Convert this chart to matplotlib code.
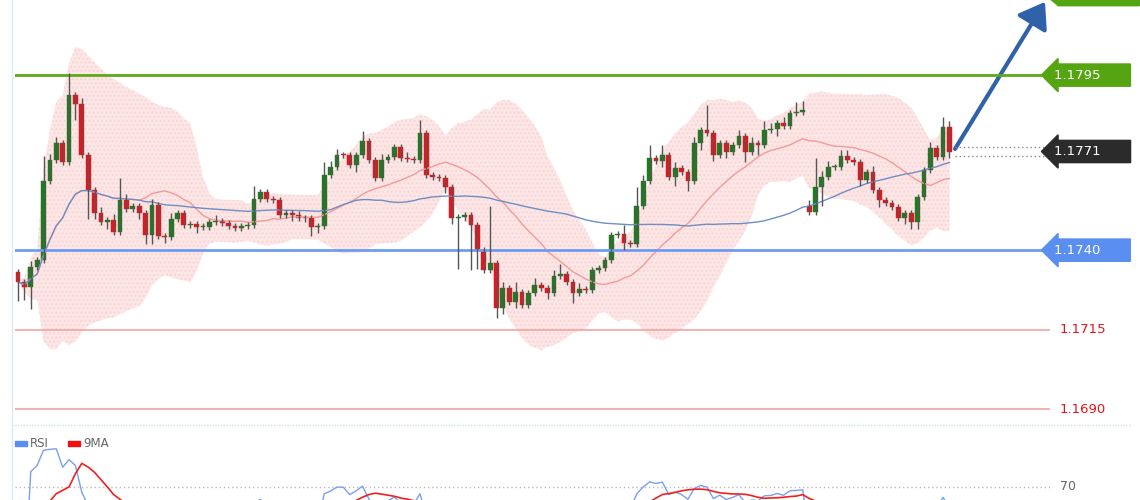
import numpy as np
import pandas as pd
import matplotlib
matplotlib.use("Agg")
import matplotlib.pyplot as plt
from matplotlib.patches import FancyArrowPatch, Polygon

first_open = 1.17331
closes = [1.17300,1.17284,1.17347,1.17369,1.17617,1.17683,1.17736,1.17677,1.17887,1.17859,
          1.17699,1.17589,1.17517,1.17488,1.17495,1.17457,1.17557,1.17529,1.17539,1.17517,
          1.17448,1.17542,1.17444,1.17441,1.17498,1.17517,1.17479,1.17481,1.17473,1.17474,
          1.17488,1.17492,1.17485,1.17476,1.17470,1.17476,1.17479,1.17561,1.17583,1.17561,
          1.17557,1.17510,1.17517,1.17512,1.17501,1.17500,1.17473,1.17476,1.17636,1.17661,
          1.17699,1.17698,1.17667,1.17699,1.17743,1.17683,1.17627,1.17683,1.17693,1.17724,
          1.17689,1.17686,1.17684,1.17768,1.17636,1.17630,1.17627,1.17598,1.17501,1.17503,
          1.17510,1.17479,1.17400,1.17338,1.17360,1.17218,1.17281,1.17237,1.17269,1.17228,
          1.17265,1.17291,1.17281,1.17265,1.17319,1.17325,1.17300,1.17265,1.17278,1.17275,
          1.17338,1.17344,1.17369,1.17448,1.17450,1.17422,1.17420,1.17539,1.17617,1.17689,
          1.17680,1.17699,1.17630,1.17658,1.17645,1.17617,1.17736,1.17777,1.17768,1.17699,
          1.17736,1.17708,1.17730,1.17758,1.17708,1.17736,1.17730,1.17777,1.17780,1.17799,
          1.17790,1.17831,1.17834,1.17840,1.17520,1.17598,1.17630,1.17661,1.17662,1.17696,
          1.17683,1.17677,1.17620,1.17645,1.17589,1.17557,1.17548,1.17536,1.17501,1.17517,
          1.17488,1.17567,1.17652,1.17721,1.17693,1.17787,1.17708]
gap_opens = {124: 1.17539}
# wick lengths beyond the body, in pips
wick_up = [1,1,2,1,8,2,2,1,7,1, 2,1,1,2,1,2,7,2,1,1, 1,2,1,1,2,1,1,1,1,1,
           1,2,1,1,1,1,1,4,1,1, 1,1,1,1,1,1,1,1,4,2, 2,1,1,1,3,1,1,2,1,1,
           1,2,1,4,1,1,1,1,1,1, 1,1,1,1,18,1,2,1,3,1, 1,2,1,1,2,3,1,1,2,1,
           1,1,1,1,1,3,1,6,2,4, 1,3,1,2,1,1,2,1,8,1, 1,1,1,2,1,2,1,3,2,1,
           2,1,3,3,2,9,2,2,1,2, 2,1,1,1,2,1,1,1,1,1, 1,1,1,2,1,3,2]
wick_dn = [6,4,7,1,1,1,1,1,1,5, 1,9,2,1,2,1,1,1,1,2, 3,3,1,2,1,1,1,1,2,1,
           1,1,1,1,1,1,1,1,1,1, 1,1,1,2,1,1,3,2,1,1, 1,1,1,2,1,1,1,1,1,1,
           1,1,1,1,1,1,1,2,2,16, 1,14,6,1,1,3,2,1,2,1, 1,1,1,2,1,1,1,3,1,1,
           1,1,1,1,1,2,1,1,1,1, 1,2,1,3,1,3,1,2,1,2, 1,2,1,1,3,1,3,1,1,2,
           1,1,1,1,1,1,6,1,1,1, 1,1,2,1,1,2,1,1,1,2, 2,2,1,1,1,1,2]

levels = [1.1795, 1.1740, 1.1715, 1.1690]
current = 1.1771
target = 1.1819

c = np.array(closes)
n = len(c)
o = np.concatenate([[first_open], c[:-1]])
for k, v in gap_opens.items():
    o[k] = v
pip = 0.0001
hi = np.maximum(o, c) + np.array(wick_up) * pip
lo = np.minimum(o, c) - np.array(wick_dn) * pip
idx = np.arange(n)

s = pd.Series(c)
ma20 = s.rolling(20, min_periods=1).mean()
sd20 = s.rolling(20, min_periods=2).std().fillna(0)
ma50 = s.rolling(50, min_periods=1).mean()
up_b = ma20 + 2 * sd20
dn_b = ma20 - 2 * sd20

delta = s.diff().fillna(0)
gain = delta.clip(lower=0).ewm(alpha=1/14, adjust=False).mean()
loss = (-delta.clip(upper=0)).ewm(alpha=1/14, adjust=False).mean()
rsi = 100 - 100 / (1 + gain / loss.replace(0, 1e-9))
rsi_ma = rsi.rolling(9, min_periods=1).mean()

W, H = 1140, 500
fig = plt.figure(figsize=(11.4, 5.0), dpi=100)
fig.patch.set_facecolor("white")

def px_to_x(p):
    return (p - 18) / 6.38

x0, x1 = px_to_x(15), px_to_x(1050)
ax = fig.add_axes([15 / W, 1 - 422 / H, 1035 / W, 422 / H])
ax.set_xlim(x0, x1)
ax.set_ylim(1.16860, 1.18186)
ax.axis("off")

ax.fill_between(idx, dn_b, up_b, color="#fde4e4", alpha=0.9, lw=0, hatch="....", edgecolor="#fad3d3")
ax.plot(idx, ma20, color="#f39a9a", lw=1)
ax.plot(idx, ma50, color="#6d8fc4", lw=1)

ax.axhline(levels[0], color="#5aaa18", lw=2)
ax.axhline(levels[1], color="#6f9cf0", lw=2)
ax.axhline(levels[2], color="#f4a3a3", lw=1.2)
ax.axhline(levels[3], color="#f4a3a3", lw=1.2)

for i in range(n):
    col = "#1e7b1e" if c[i] >= o[i] else "#e8141c"
    ax.vlines(i, lo[i], hi[i], color="#555555", lw=1)
    b0, b1 = min(o[i], c[i]), max(o[i], c[i])
    if b1 - b0 < 0.00003:
        b1 = b0 + 0.00003
    ax.bar(i, b1 - b0, bottom=b0, width=0.75, color=col, edgecolor=col, lw=0.3)

ax.hlines([current + 0.00015, current - 0.00015], px_to_x(955), x1,
          colors="#888888", linestyles=(0, (1, 2)), lw=1)

arr = FancyArrowPatch((px_to_x(955), current + 0.00008), (px_to_x(1045), 1.18180),
                      arrowstyle="-|>,head_length=5,head_width=3.5", color="#2f62a8",
                      lw=3, mutation_scale=3, shrinkA=0, shrinkB=0)
ax.add_patch(arr)

def tag(y, text, fc, tc="white"):
    ax.text(x1 + 0.6, y, text, ha="left", va="center", fontsize=9.5, color=tc,
            family="DejaVu Sans", clip_on=False,
            bbox=dict(boxstyle="larrow,pad=0.35", fc=fc, ec=fc))

tag(levels[0], "1.1795      ", "#55a411")
tag(levels[1], "1.1740      ", "#5a8ef0")
tag(current, "1.1771      ", "#2b2b2b")
# target tag box, mostly above the visible area
ax.add_patch(Polygon([(x1, target), (x1 + 1.3, target + 0.00022), (x1 + 14, target + 0.00022),
                      (x1 + 14, target - 0.00022), (x1 + 1.3, target - 0.00022)],
                     closed=True, color="#55a411", clip_on=False))
for lv, t in [(levels[2], "1.1715"), (levels[3], "1.1690")]:
    ax.text(x1 + 1.5, lv, t, ha="left", va="center", fontsize=9.5, color="#e8141c", clip_on=False)

# RSI panel
ax2 = fig.add_axes([15 / W, 0, 1035 / W, 75 / H])
ax2.set_xlim(x0, x1)
ax2.set_ylim(60.7, 114.2)
ax2.axis("off")
ax2.axhline(70, color="#bbbbbb", lw=1, ls=(0, (1, 2)))
ax2.plot(idx, rsi, color="#7b9ef0", lw=1)
ax2.plot(idx, rsi_ma, color="#f02020", lw=1.2)
ax2.text(x1 + 1.5, 70, "70", ha="left", va="center", fontsize=9, color="#666666", clip_on=False)
ax2.text(px_to_x(30), 101, "RSI", fontsize=8.5, color="#666666", va="center")
ax2.text(px_to_x(83), 101, "9MA", fontsize=8.5, color="#666666", va="center")
ax2.add_patch(plt.Rectangle((px_to_x(15), 99.5), px_to_x(27) - px_to_x(15), 3, color="#5a8ef0", clip_on=False))
ax2.add_patch(plt.Rectangle((px_to_x(68), 99.5), px_to_x(80) - px_to_x(68), 3, color="#ee1111", clip_on=False))

fig.add_artist(plt.Line2D([12 / W, 1130 / W], [1 - 425 / H] * 2, color="#cfe3ea", lw=1, ls=(0, (1, 1))))
fig.add_artist(plt.Line2D([12 / W] * 2, [0, 1], color="#dde9ee", lw=1))

fig.savefig("out.png", dpi=100)
